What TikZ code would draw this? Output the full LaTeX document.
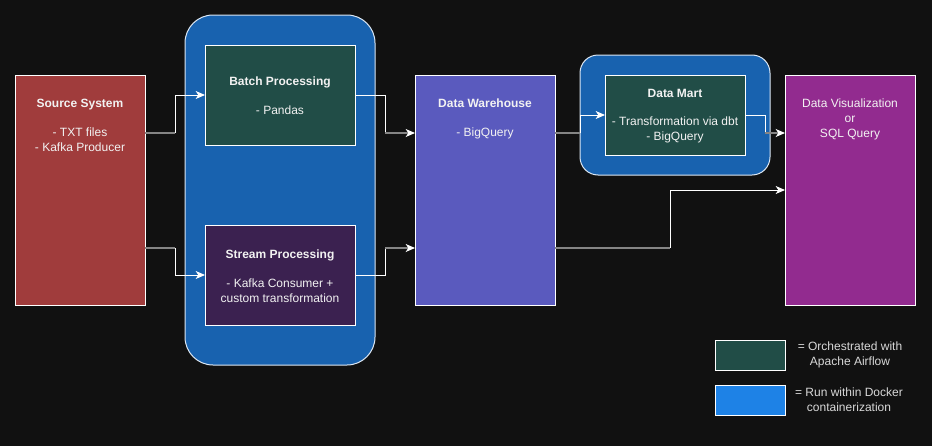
\documentclass[tikz,border=0pt]{standalone}
\usepackage{fontspec}
\setmainfont{Liberation Sans}
\usetikzlibrary{arrows.meta,calc}
\definecolor{bgc}{HTML}{111111}
\definecolor{srcred}{HTML}{A03C3C}
\definecolor{dockblue}{HTML}{1862AF}
\definecolor{airgreen}{HTML}{214D47}
\definecolor{strpurple}{HTML}{3B2150}
\definecolor{dwblue}{HTML}{5A5ABE}
\definecolor{vizpurple}{HTML}{922B8F}
\definecolor{legblue}{HTML}{1E82E6}
\definecolor{glin}{HTML}{858585}
\definecolor{txtc}{HTML}{F2F2F2}
\definecolor{legtxt}{HTML}{D8D8D8}
\begin{document}
\begin{tikzpicture}[x=0.75pt,y=-0.75pt,
  box/.style={draw=white, line width=0.75pt, inner sep=0pt, outer sep=0pt},
  sz/.style 2 args={minimum width=#1*0.75pt, minimum height=#2*0.75pt},
  container/.style={draw=white!85!dockblue, fill=dockblue, line width=0.75pt, inner sep=0pt, outer sep=0pt},
  txt/.style={text=txtc, font=\fontsize{9}{11.1}\selectfont, align=center, inner sep=0pt},
  legtext/.style={text=legtxt, font=\fontsize{9}{11.1}\selectfont, align=center, inner sep=0pt},
  wline/.style={draw=white, line width=0.75pt},
  gline/.style={draw=glin, line width=0.9pt},
  tip/.style={-{Stealth[length=7pt,width=6pt,inset=2pt,white]}}
]
\fill[bgc] (0,0) rectangle (932,446);

% containers
\node[container, sz={190}{350}, rounded corners=21pt] (dock1) at (280,190) {};
\node[container, sz={190}{120}, rounded corners=13.5pt] (dock2) at (675,115) {};

% boxes
\node[box, fill=srcred, sz={130}{230}] (src) at (80,190) {};
\node[txt, anchor=north] (srct) at ($(src.north)+(0,24)$) {\textbf{Source System}\\[10.5pt]- TXT files\\- Kafka Producer};

\node[box, fill=airgreen, sz={150}{100}] (batch) at (280,95) {};
\node[txt] (batcht) at ($(batch.center)+(0,1)$) {\textbf{Batch Processing}\\[10.5pt]- Pandas};

\node[box, fill=strpurple, sz={150}{100}] (stream) at (280,275) {};
\node[txt] (streamt) at ($(stream.center)+(0,1)$) {\textbf{Stream Processing}\\[10.5pt]- Kafka Consumer +\\custom transformation};

\node[box, fill=dwblue, sz={140}{230}] (dw) at (485,190) {};
\node[txt, anchor=north] (dwt) at ($(dw.north)+(0,24)$) {\textbf{Data Warehouse}\\[10.5pt]- BigQuery};

\node[box, fill=airgreen, sz={140}{80}] (mart) at (675,115) {};
\node[txt] (martt) at ($(mart.center)+(0,1)$) {\textbf{Data Mart}\\[10.5pt]- Transformation via dbt\\- BigQuery};

\node[box, fill=vizpurple, sz={130}{230}] (viz) at (850,190) {};
\node[txt, anchor=north] (vizt) at ($(viz.north)+(0,24)$) {Data Visualization\\or\\SQL Query};

% legend
\node[box, fill=airgreen, sz={70}{30}] (leg1) at (750,355) {};
\node[legtext] (leg1t) at (850,355) {= Orchestrated with\\Apache Airflow};
\node[box, fill=legblue, sz={70}{30}] (leg2) at (750,400) {};
\node[legtext] (leg2t) at (849,400) {= Run within Docker\\containerization};

% connectors
% Source -> Batch
\coordinate (s1) at ($(src.north east)+(0,58)$);
\draw[gline] (s1) -- ++(30,0) coordinate (k1);
\draw[wline, tip] (k1) |- (batch.west);
% Source -> Stream
\coordinate (s2) at ($(src.north east)+(0,173)$);
\draw[gline] (s2) -- ++(30,0) coordinate (k2);
\draw[wline, tip] (k2) |- (stream.west);
% Batch -> DW
\coordinate (d1) at ($(dw.north west)+(0,58)$);
\draw[wline] (batch.east) -- ++(30,0) coordinate (k3) -- (k3 |- d1) coordinate (k3b);
\draw[gline, tip] (k3b) -- (d1);
% Stream -> DW
\coordinate (d2) at ($(dw.north west)+(0,173)$);
\draw[wline] (stream.east) -- ++(30,0) coordinate (k4) -- (k4 |- d2) coordinate (k4b);
\draw[gline, tip] (k4b) -- (d2);
% DW -> Data Mart
\coordinate (e1) at ($(dw.north east)+(0,58)$);
\draw[gline] (e1) -- (e1 -| dock2.west) coordinate (k5);
\draw[wline, tip] (k5) |- (mart.west);
% Data Mart -> Viz
\coordinate (v1) at ($(viz.north west)+(0,58)$);
\draw[wline] (mart.east) -- ++(20,0) coordinate (k6) -- (k6 |- v1) coordinate (k6b);
\draw[gline, tip] (k6b) -- (v1);
% DW -> Viz (lower)
\coordinate (e2) at ($(dw.north east)+(0,173)$);
\coordinate (v2) at ($(viz.north west)+(0,115)$);
\draw[gline] (e2) -- ++(115,0) coordinate (k7);
\draw[wline, tip] (k7) |- (v2);
\end{tikzpicture}
\end{document}
